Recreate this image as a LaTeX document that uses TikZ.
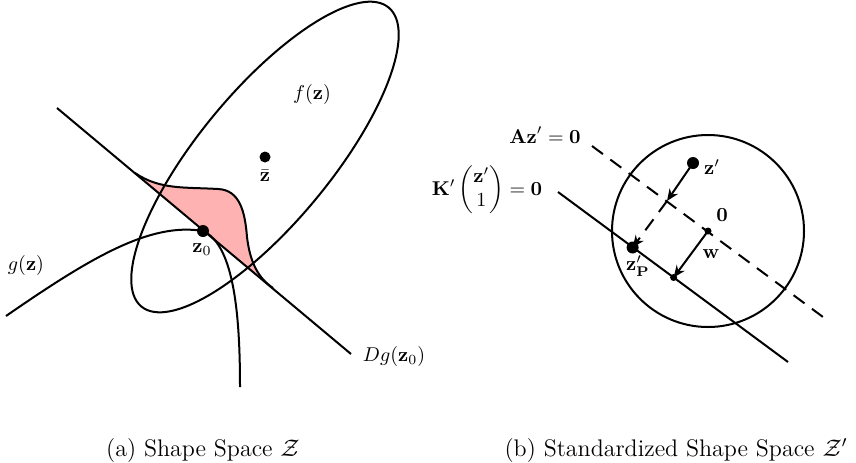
\documentclass[tikz,border=0pt]{standalone}
\usepackage{amsmath}
\usetikzlibrary{arrows.meta}
\tikzset{
  dot/.style={fill=black},
  arr/.style={-{Stealth[length=6pt,width=5pt,inset=2pt]}},
  dashline/.style={dash pattern=on 6.8pt off 4.6pt}
}
\begin{document}
\begin{tikzpicture}[x=0.5pt,y=-0.5pt,line width=1pt]
\useasboundingbox (0,0) rectangle (856,462);

% ---------- Shape space ----------
\coordinate (tA) at (57,108);
\coordinate (tB) at (351,354);
\coordinate (pA) at (135,173);
\coordinate (pB) at (273,288);
\coordinate (z0) at (203,231);
\coordinate (zbar) at (265,157);
\coordinate (gS) at (6,316);
\coordinate (gE) at (240,387);

\fill[red!30] (pA) .. controls (160,190) and (185,187) .. (218,189)
  .. controls (240,190) and (245,212) .. (247,237)
  .. controls (250,262) and (258,278) .. (pB) -- cycle;
\draw (pA) .. controls (160,190) and (185,187) .. (218,189)
  .. controls (240,190) and (245,212) .. (247,237)
  .. controls (250,262) and (258,278) .. (pB);

\draw[rotate around={50.4:(zbar)}] (zbar) ellipse (194 and 66);
\draw (tA) -- (tB);
\draw (gS) .. controls (90,258) and (150,222) .. (z0)
  .. controls (235,245) and (240,320) .. (gE);

\fill[dot] (z0) circle (6);
\fill[dot] (zbar) circle (5.5);

\node (fz) at (312,94) {$f(\mathbf{z})$};
\node (gz) at (26,265) {$g(\mathbf{z})$};
\node (dg) at (394,356) {$Dg(\mathbf{z}_0)$};
\node (z0lab) at (202,250) {$\mathbf{z}_0$};
\node (zbarlab) at (265,176) {$\bar{\mathbf{z}}$};

% ---------- Standardized shape space ----------
\coordinate (O) at (708,231);
\coordinate (F) at (673.6,277.5);
\coordinate (zp) at (693,163);
\coordinate (M) at (667,201);
\coordinate (zP) at (632.6,247.5);
\coordinate (aS) at (592,146);
\coordinate (aE) at (823,317);
\coordinate (kS) at (558,192);
\coordinate (kE) at (788,362);

\draw (O) circle (96);
\draw[dashline] (aS) -- (aE);
\draw (kS) -- (kE);

\fill[dot] (O) circle (3.5);
\fill[dot] (F) circle (3.5);
\fill[dot] (zp) circle (6);
\fill[dot] (zP) circle (6);

\draw[arr] (zp) -- (M);
\draw[arr,dashline] (M) -- (zP);
\draw[arr] (O) -- (F);

\node (Alab) at (545,135) {$\mathbf{Az}'=\mathbf{0}$};
\node (Klab) at (487,190) {$\mathbf{K}'\begin{pmatrix}\mathbf{z}'\\1\end{pmatrix}=\mathbf{0}$};
\node (Olab) at (722,215) {$\mathbf{0}$};
\node (wlab) at (711,254) {$\mathbf{w}$};
\node (zplab) at (712,167) {$\mathbf{z}'$};
\node (zPlab) at (638,266) {$\mathbf{z}'_{\mathbf{P}}$};

% ---------- captions ----------
\node[font=\large] (capa) at (203,450) {(a) Shape Space $\mathcal{Z}$};
\node[font=\large] (capb) at (676,450) {(b) Standardized Shape Space $\mathcal{Z}'$};

\end{tikzpicture}
\end{document}
